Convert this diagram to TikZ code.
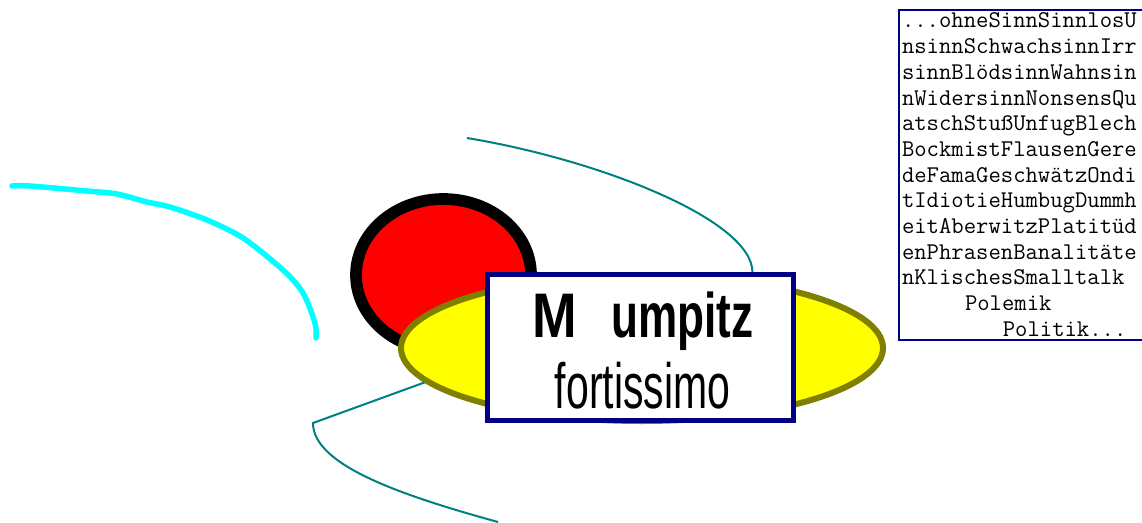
\documentclass[tikz,border=0pt]{standalone}
\usepackage{fontspec}
\setmainfont{Liberation Sans}
\usepackage{graphicx}
\usepackage{xcolor}
\usetikzlibrary{shapes.geometric,positioning}

\definecolor{navy}{RGB}{0,0,128}
\definecolor{kopfrot}{RGB}{255,0,0}
\definecolor{gelb}{RGB}{255,255,0}
\definecolor{oliv}{RGB}{128,128,0}
\definecolor{faden}{RGB}{0,128,128}
\definecolor{tuerkis}{RGB}{0,255,255}

\begin{document}
\begin{tikzpicture}[x=1pt,y=-1pt,
    kopf/.style={ellipse,draw=black,fill=kopfrot,line width=11.7pt,
      minimum width=175pt,minimum height=152pt,inner sep=0pt},
    teller/.style={ellipse,draw=oliv,fill=gelb,line width=6pt,
      minimum width=482pt,minimum height=146pt,inner sep=0pt},
    schild/.style={draw=navy,fill=white,line width=5pt,
      minimum width=306pt,minimum height=146pt,inner sep=0pt},
    wort/.style={inner sep=0pt,anchor=base},
    zettel/.style={draw=navy,line width=2pt,anchor=north west,align=left,
      text width=250pt,inner xsep=3pt,inner ysep=3pt,
      font=\ttfamily\fontsize{24}{25.7}\selectfont},
    fadenlinie/.style={draw=faden,line width=2pt},
    kritzel/.style={draw=tuerkis,line width=5.5pt,line cap=round,line join=round}
  ]
    \useasboundingbox (0,0) rectangle (1142,522);
    \clip (0,0) rectangle (1142,522);

    % figure in the middle
    \node[kopf] (kopf) at (443.5,275) {};
    \node[teller] (teller) at (642,348) {};

    % threads
    \coordinate (fadenA) at (467,138);
    \coordinate (knick) at (313,423);
    \coordinate (fadenB) at (498,522);
    \draw[fadenlinie] (teller.189) -- (knick)
      .. controls (313,465) and (400,495) .. (fadenB);

    \node[schild] (schild) at (640.5,347.5) {};
    \draw[fadenlinie] (fadenA) .. controls (600,160) and (752,220) .. (schild.34);

    \node[wort,font=\bfseries\fontsize{63}{63}\selectfont] (wortA) at (643,337)
      {\scalebox{0.85}[1]{M}\hspace{34pt}\scalebox{0.7}[1]{umpitz}};
    \node[wort,font=\fontsize{64}{64}\selectfont] (wortB) at (642.5,408)
      {\scalebox{0.64}[1]{fortissimo}};

    % freehand stroke
    \draw[kritzel] plot[smooth,tension=0.5] coordinates {(12,186) (30,186)
      (87,191) (117,194) (147,202) (170,207) (207,220) (243,238) (283,270)
      (303,293) (315,323) (316,338)};

    % note on the right
    \node[zettel] (zettel) at (898,9) {...ohneSinnSinnlosU\\
      nsinnSchwachsinnIrr\\
      sinnBlödsinnWahnsin\\
      nWidersinnNonsensQu\\
      atschStußUnfugBlech\\
      BockmistFlausenGere\\
      deFamaGeschwätzOndi\\
      tIdiotieHumbugDummh\\
      eitAberwitzPlatitüd\\
      enPhrasenBanalitäte\\
      nKlischesSmalltalk\\
      \hspace*{2.625em}Polemik\\
      \hspace*{4.2em}Politik...};
\end{tikzpicture}
\end{document}
